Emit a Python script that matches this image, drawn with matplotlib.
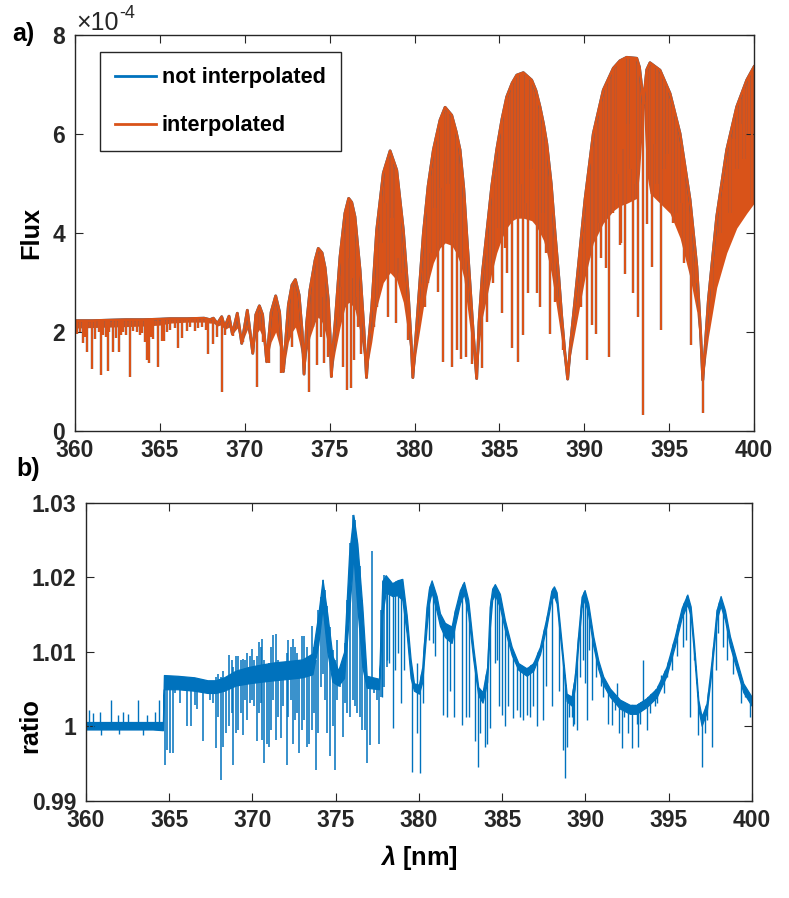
import numpy as np
import matplotlib
matplotlib.use('Agg')
import matplotlib.pyplot as plt
from matplotlib.patches import Polygon

plt.rc('font', family=['Liberation Sans', 'DejaVu Sans'], weight='bold', size=16.5)
plt.rc('axes', labelweight='bold')
plt.rc('mathtext', fontset='custom', rm='Liberation Sans', it='Liberation Sans:italic',
       bf='Liberation Sans:bold')

blue = '#0072BD'
orange = '#D95319'
axis_col = '#262626'

# ---- panel a) : flux in units of 1e-4 ----
# upper envelope of the spectrum and lower edge of the dense (solid) part
env_wl = [360.0, 361.0, 362.0, 363.0, 364.0, 365.0, 365.6, 366.6, 367.6, 367.95,
          368.15, 368.38, 368.64, 368.82, 369.07, 369.27, 369.56, 369.82, 370.15, 370.47,
          370.65, 370.86, 371.05, 371.29, 371.55, 371.82, 372.05, 372.27, 372.57, 372.78,
          372.98, 373.20, 373.38, 373.49, 373.65, 373.84, 374.14, 374.33, 374.55, 374.73,
          374.92, 375.03, 375.10, 375.20, 375.32, 375.61, 375.90, 376.12, 376.30, 376.49,
          376.79, 377.02, 377.17, 377.30, 377.48, 377.77, 378.16, 378.56, 378.95, 379.34,
          379.64, 379.80, 379.90, 380.10, 380.52, 380.80, 381.11, 381.50, 381.80, 382.19,
          382.45, 382.68, 382.90, 383.07, 383.46, 383.66, 383.80, 384.00, 384.25, 384.55,
          384.84, 385.15, 385.43, 385.75, 386.02, 386.41, 386.90, 387.15, 387.39, 387.60,
          387.79, 388.05, 388.28, 388.50, 388.67, 388.85, 389.02, 389.20, 389.55, 390.04,
          390.53, 391.12, 391.71, 392.10, 392.50, 393.09, 393.25, 393.40, 393.48, 393.56,
          393.68, 393.87, 394.46, 395.05, 395.64, 396.23, 396.63, 396.85, 396.98, 397.10,
          397.31, 397.80, 398.39, 398.98, 399.57, 400.0]
env_top = [2.23, 2.23, 2.24, 2.25, 2.25, 2.26, 2.27, 2.27, 2.28, 2.25,
           2.28, 2.17, 2.31, 2.10, 2.32, 1.96, 2.38, 1.77, 2.44, 1.57,
           2.35, 2.53, 2.35, 1.40, 2.40, 2.73, 2.40, 1.20, 2.55, 2.95,
           3.06, 2.75, 2.00, 1.15, 2.20, 2.85, 3.45, 3.69, 3.60, 3.30,
           2.65, 1.90, 1.10, 1.70, 2.18, 3.52, 4.40, 4.70, 4.62, 4.33,
           3.25, 2.04, 1.08, 1.80, 2.51, 4.06, 5.21, 5.66, 5.27, 4.06,
           2.71, 1.80, 1.08, 2.00, 3.99, 4.95, 5.68, 6.28, 6.54, 6.38,
           6.05, 5.68, 4.90, 3.99, 1.97, 1.06, 2.20, 3.20, 3.99, 4.95,
           5.68, 6.30, 6.75, 7.03, 7.19, 7.24, 7.09, 6.88, 6.55, 6.20,
           5.81, 5.00, 3.99, 3.10, 2.31, 1.60, 1.05, 1.80, 2.98, 4.67,
           6.01, 6.89, 7.33, 7.48, 7.55, 7.53, 7.35, 6.90, 6.60, 6.90,
           7.30, 7.44, 7.29, 6.82, 6.01, 4.67, 3.32, 2.00, 1.03, 1.60,
           2.65, 4.33, 5.68, 6.55, 7.09, 7.36]
env_solid = [2.08, 2.09, 2.10, 2.11, 2.12, 2.14, 2.18, 2.20, 2.20, 2.18,
             2.18, 2.12, 2.15, 2.05, 2.10, 1.96, 2.08, 1.77, 2.05, 1.57,
             1.95, 2.05, 1.90, 1.40, 1.80, 2.00, 1.70, 1.20, 1.80, 2.00,
             2.10, 1.80, 1.50, 1.15, 1.60, 1.90, 2.20, 2.30, 2.20, 2.00,
             1.70, 1.40, 1.10, 1.35, 1.60, 2.10, 2.50, 2.60, 2.55, 2.45,
             2.00, 1.50, 1.08, 1.45, 1.80, 2.50, 3.00, 3.20, 3.05, 2.60,
             1.90, 1.45, 1.08, 1.60, 2.50, 3.00, 3.40, 3.70, 3.80, 3.75,
             3.60, 3.40, 3.10, 2.60, 1.55, 1.06, 1.70, 2.30, 2.70, 3.20,
             3.60, 3.90, 4.10, 4.25, 4.30, 4.30, 4.25, 4.15, 4.00, 3.85,
             3.60, 3.20, 2.70, 2.20, 1.80, 1.35, 1.05, 1.55, 2.20, 3.10,
             3.80, 4.20, 4.45, 4.55, 4.60, 4.70, 5.20, 6.00, 6.60, 6.00,
             5.20, 4.80, 4.60, 4.40, 3.90, 3.10, 2.40, 1.60, 1.03, 1.35,
             1.90, 2.90, 3.60, 4.10, 4.40, 4.60]

# absorption lines: wavelength and flux at line core
line_wl = [360.10, 360.30, 360.45, 360.60, 360.73, 360.98, 361.18, 361.40, 361.51, 361.67,
           361.80, 361.96, 362.00, 362.22, 362.42, 362.59, 362.70, 362.85, 363.00, 363.24,
           363.40, 363.63, 363.80, 363.93, 364.10, 364.22, 364.38, 364.50, 364.61, 364.87,
           365.10, 365.26, 365.40, 365.60, 365.90, 366.09, 366.30, 366.58, 366.80, 367.07,
           367.26, 367.50, 367.70, 367.85, 368.11, 368.35, 368.64, 368.84, 369.33, 369.92,
           370.47, 370.70, 371.09, 371.45, 372.12, 372.31, 372.76, 373.80, 374.00, 374.28,
           374.47, 374.55, 374.67, 374.92, 375.50, 375.70, 375.81, 376.00, 376.10, 376.24,
           376.35, 376.44, 376.60, 376.69, 376.83, 377.60, 377.77, 378.00, 378.30, 378.46,
           378.70, 378.91, 379.05, 379.15, 379.64, 380.62, 380.78, 380.90, 381.20, 381.40,
           381.55, 381.70, 381.95, 382.19, 382.35, 382.49, 382.72, 382.90, 383.01, 383.37,
           383.96, 384.25, 384.45, 384.60, 385.00, 385.14, 385.30, 385.47, 385.72, 385.90,
           386.12, 386.25, 386.37, 386.55, 386.70, 386.85, 387.20, 387.39, 387.55, 387.75,
           387.98, 388.05, 388.30, 388.77, 389.80, 390.14, 390.30, 390.44, 390.67, 390.90,
           391.00, 391.30, 391.46, 391.70, 392.00, 392.11, 392.17, 392.30, 392.40, 392.60,
           392.75, 392.89, 393.00, 393.15, 393.48, 393.71, 393.97, 394.10, 394.30, 394.52,
           394.70, 394.90, 395.20, 395.40, 395.74, 395.90, 396.27, 396.57, 396.98, 397.51,
           398.00, 398.20, 398.60, 398.80, 399.00, 399.20, 399.40, 399.70, 399.86]
line_min = [1.97, 2.00, 1.77, 1.90, 1.60, 1.25, 1.85, 2.00, 1.13, 1.95,
            1.90, 1.22, 2.00, 1.60, 1.87, 1.60, 1.95, 2.00, 1.95, 1.10,
            2.02, 2.00, 1.95, 1.98, 1.80, 1.43, 1.37, 1.90, 1.85, 1.29,
            1.82, 1.82, 2.00, 2.05, 2.08, 1.67, 1.87, 2.02, 2.10, 2.02,
            2.08, 2.10, 2.05, 1.56, 1.75, 1.90, 0.79, 1.95, 1.92, 1.80,
            1.60, 0.89, 1.80, 1.38, 1.18, 1.25, 1.70, 0.79, 2.10, 1.33,
            1.90, 2.70, 1.37, 1.50, 2.30, 2.90, 1.30, 0.83, 3.50, 0.86,
            3.10, 1.43, 2.70, 2.11, 1.55, 2.10, 2.50, 3.80, 4.60, 2.31,
            4.30, 2.18, 3.50, 3.20, 1.84, 2.51, 3.00, 3.60, 4.50, 2.81,
            4.90, 1.40, 5.00, 1.30, 4.40, 1.64, 1.45, 3.50, 1.50, 1.35,
            1.27, 2.20, 3.39, 3.00, 4.10, 2.38, 3.70, 3.20, 1.67, 4.30,
            1.40, 5.00, 1.94, 4.60, 2.78, 5.30, 2.78, 2.51, 4.40, 3.60,
            1.97, 3.40, 2.60, 1.64, 2.50, 1.43, 3.50, 2.14, 1.97, 4.20,
            3.50, 3.30, 1.50, 4.40, 5.20, 3.76, 3.80, 5.70, 3.18, 6.20,
            5.30, 2.78, 5.00, 2.31, 0.32, 4.19, 3.32, 5.80, 5.00, 2.04,
            5.30, 5.60, 4.20, 4.40, 4.60, 3.40, 1.74, 3.00, 0.37, 2.65,
            4.00, 5.20, 4.40, 5.90, 5.30, 6.20, 5.50, 6.00, 4.67]

flux_ticks = [0, 2, 4, 6, 8]
wl_ticks = [360, 365, 370, 375, 380, 385, 390, 395, 400]

# ---- panel b) : ratio interpolated / not interpolated ----
# main band of the ratio curve (lower and upper edge)
ratio_wl = [360.0, 361.0, 362.0, 363.0, 364.0, 364.62, 364.68, 365.5, 366.5, 367.3,
            367.8, 368.3, 369.0, 369.8, 370.5, 371.3, 372.2, 373.0, 373.6, 373.95,
            374.21, 374.5, 374.8, 375.15, 375.5, 375.8, 376.06, 376.3, 376.6, 376.86,
            377.6, 377.8, 378.0, 378.4, 378.7, 379.0, 379.26, 379.5, 379.7, 380.0,
            380.2, 380.45, 380.6, 380.76, 381.06, 381.26, 381.56, 381.96, 382.16, 382.46,
            382.7, 382.96, 383.26, 383.56, 383.82, 384.1, 384.25, 384.4, 384.56, 384.86,
            385.16, 385.57, 385.97, 386.47, 386.87, 387.27, 387.67, 387.95, 388.11, 388.27,
            388.57, 388.87, 389.17, 389.35, 389.57, 389.77, 389.95, 390.17, 390.47, 390.77,
            391.07, 391.47, 392.07, 392.67, 393.07, 393.67, 394.27, 394.87, 395.37, 395.78,
            396.12, 396.32, 396.52, 396.78, 396.98, 397.28, 397.58, 397.88, 398.12, 398.38,
            398.68, 399.08, 399.48, 399.98]
ratio_lo = [0.9996, 0.9996, 0.9996, 0.9996, 0.9996, 0.9995, 1.0050, 1.0050, 1.0048, 1.0045,
            1.0045, 1.0048, 1.0055, 1.0058, 1.0060, 1.0062, 1.0064, 1.0066, 1.0070, 1.0110,
            1.0160, 1.0100, 1.0060, 1.0055, 1.0065, 1.0150, 1.0230, 1.0160, 1.0080, 1.0052,
            1.0050, 1.0150, 1.0180, 1.0175, 1.0176, 1.0170, 1.0125, 1.0065, 1.0048, 1.0044,
            1.0060, 1.0130, 1.0165, 1.0180, 1.0155, 1.0135, 1.0120, 1.0112, 1.0135, 1.0165,
            1.0178, 1.0150, 1.0090, 1.0042, 1.0032, 1.0060, 1.0130, 1.0170, 1.0177, 1.0160,
            1.0130, 1.0096, 1.0076, 1.0068, 1.0075, 1.0097, 1.0135, 1.0170, 1.0175, 1.0165,
            1.0100, 1.0034, 1.0028, 1.0050, 1.0110, 1.0160, 1.0170, 1.0150, 1.0108, 1.0077,
            1.0056, 1.0040, 1.0024, 1.0017, 1.0017, 1.0026, 1.0039, 1.0068, 1.0108, 1.0146,
            1.0164, 1.0148, 1.0098, 1.0024, 1.0001, 1.0019, 1.0076, 1.0143, 1.0162, 1.0143,
            1.0108, 1.0077, 1.0046, 1.0028]
ratio_hi = [1.0006, 1.0006, 1.0006, 1.0006, 1.0006, 1.0006, 1.0069, 1.0068, 1.0066, 1.0062,
            1.0062, 1.0066, 1.0075, 1.0080, 1.0083, 1.0086, 1.0088, 1.0090, 1.0098, 1.0150,
            1.0197, 1.0150, 1.0095, 1.0075, 1.0100, 1.0230, 1.0284, 1.0245, 1.0160, 1.0068,
            1.0064, 1.0195, 1.0203, 1.0192, 1.0196, 1.0198, 1.0150, 1.0090, 1.0058, 1.0056,
            1.0080, 1.0160, 1.0185, 1.0196, 1.0175, 1.0152, 1.0139, 1.0134, 1.0156, 1.0183,
            1.0194, 1.0170, 1.0107, 1.0053, 1.0046, 1.0080, 1.0160, 1.0185, 1.0191, 1.0178,
            1.0143, 1.0107, 1.0085, 1.0078, 1.0085, 1.0107, 1.0147, 1.0182, 1.0188, 1.0180,
            1.0112, 1.0044, 1.0040, 1.0065, 1.0125, 1.0174, 1.0183, 1.0165, 1.0121, 1.0089,
            1.0067, 1.0051, 1.0036, 1.0029, 1.0029, 1.0038, 1.0051, 1.0080, 1.0121, 1.0159,
            1.0177, 1.0161, 1.0112, 1.0036, 1.0013, 1.0031, 1.0089, 1.0156, 1.0175, 1.0156,
            1.0121, 1.0089, 1.0058, 1.0040]

# dense forest 364.7 - 378 nm: min and max of the ratio at each stroke
stroke_wl = [364.74, 364.88, 365.04, 365.20, 365.34, 365.64, 366.04, 366.29, 366.55, 366.69,
             367.01, 367.45, 367.65, 367.81, 367.95, 368.09, 368.25, 368.41, 368.59, 368.75,
             368.85, 369.01, 369.15, 369.29, 369.45, 369.57, 369.69, 369.85, 369.95, 370.09,
             370.25, 370.37, 370.49, 370.59, 370.69, 370.85, 370.99, 371.11, 371.25, 371.41,
             371.55, 371.69, 371.85, 372.05, 372.15, 372.29, 372.41, 372.55, 372.69, 372.81,
             372.95, 373.09, 373.25, 373.41, 373.55, 373.69, 373.81, 373.95, 374.09, 374.21,
             374.35, 374.49, 374.65, 374.81, 374.95, 375.09, 375.25, 375.41, 375.55, 375.69,
             375.85, 376.01, 376.15, 376.29, 376.45, 376.59, 376.75, 376.89, 377.05, 377.16,
             377.29, 377.46, 377.58, 377.70, 377.90, 378.10]
stroke_lo = [0.9948, 0.9969, 0.9964, 0.9964, 1.0045, 1.0031, 1.0000, 1.0000, 1.0029, 1.0024,
             0.9980, 1.0036, 1.0031, 0.9971, 1.0013, 0.9928, 0.9973, 0.9991, 1.0000, 1.0018,
             0.9948, 0.9991, 0.9995, 1.0018, 0.9989, 1.0036, 1.0009, 1.0031, 1.0036, 1.0027,
             0.9980, 1.0018, 1.0031, 0.9982, 0.9951, 0.9977, 0.9973, 0.9995, 1.0036, 0.9982,
             1.0013, 0.9984, 1.0027, 0.9948, 1.0013, 1.0036, 0.9977, 1.0009, 1.0018, 0.9964,
             0.9995, 1.0009, 0.9973, 0.9977, 0.9995, 1.0018, 0.9942, 0.9991, 1.0053, 1.0071,
             1.0036, 0.9991, 0.9960, 1.0000, 0.9942, 1.0036, 1.0053, 0.9986, 1.0031, 1.0018,
             1.0013, 1.0036, 1.0027, 1.0018, 1.0013, 0.9995, 0.9995, 0.9951, 0.9975, 1.0053,
             1.0045, 1.0036, 0.9977, 1.0040, 1.0053, 1.0080]
stroke_hi = [1.0069, 1.0067, 1.0062, 1.0062, 1.0067, 1.0067, 1.0062, 1.0062, 1.0060, 1.0058,
             1.0058, 1.0060, 1.0053, 1.0067, 1.0071, 1.0067, 1.0074, 1.0062, 1.0096, 1.0089,
             1.0080, 1.0094, 1.0095, 1.0089, 1.0091, 1.0089, 1.0099, 1.0094, 1.0104, 1.0089,
             1.0094, 1.0113, 1.0107, 1.0117, 1.0089, 1.0080, 1.0085, 1.0107, 1.0123, 1.0124,
             1.0089, 1.0087, 1.0087, 1.0098, 1.0116, 1.0107, 1.0118, 1.0107, 1.0098, 1.0089,
             1.0121, 1.0121, 1.0107, 1.0089, 1.0135, 1.0107, 1.0089, 1.0156, 1.0174, 1.0197,
             1.0183, 1.0161, 1.0134, 1.0103, 1.0089, 1.0116, 1.0062, 1.0089, 1.0112, 1.0170,
             1.0246, 1.0284, 1.0277, 1.0250, 1.0215, 1.0170, 1.0103, 1.0067, 1.0062, 1.0235,
             1.0062, 1.0062, 1.0062, 1.0156, 1.0203, 1.0197]

# spikes going down from the band
dip_wl = [360.90, 362.00, 363.40, 377.76, 378.06, 378.22, 378.42, 378.56, 378.76, 378.90,
          379.10, 379.60, 379.90, 380.06, 380.26, 380.62, 380.86, 380.96, 381.46, 381.66,
          381.86, 382.10, 382.56, 382.82, 383.02, 383.36, 383.52, 383.66, 383.96, 384.10,
          384.26, 384.56, 384.70, 384.82, 384.96, 385.16, 385.36, 385.66, 385.86, 386.06,
          386.27, 386.47, 386.67, 386.87, 387.11, 387.43, 387.63, 387.97, 388.43, 388.63,
          388.77, 388.91, 389.03, 389.17, 389.27, 389.31, 389.47, 389.67, 389.83, 389.97,
          390.07, 390.23, 390.37, 390.63, 390.91, 391.07, 391.37, 391.57, 391.77, 392.03,
          392.17, 392.33, 392.57, 392.77, 393.07, 393.17, 393.27, 393.71, 393.87, 394.17,
          394.31, 394.71, 394.91, 395.17, 395.52, 395.88, 396.04, 396.28, 396.52, 396.76,
          396.98, 397.18, 397.32, 397.58, 397.84, 397.98, 398.28, 398.48, 398.88, 399.08,
          399.32, 399.58, 399.88]
dip_tip = [0.9988, 0.9990, 0.9988, 1.0040, 1.0089, 1.0085, 0.9998, 1.0076, 1.0098, 1.0031,
           1.0076, 0.9939, 0.9991, 0.9937, 1.0031, 1.0116, 1.0112, 1.0094, 1.0015, 1.0013,
           1.0047, 1.0013, 1.0002, 1.0013, 1.0013, 0.9980, 0.9946, 0.9991, 0.9973, 0.9977,
           0.9998, 1.0085, 1.0089, 1.0027, 1.0015, 1.0000, 1.0027, 1.0011, 1.0022, 1.0013,
           1.0009, 1.0015, 1.0013, 1.0027, 1.0000, 1.0009, 1.0054, 1.0027, 1.0047, 0.9969,
           0.9931, 0.9973, 1.0013, 1.0013, 1.0000, 1.0004, 0.9995, 1.0067, 1.0089, 1.0058,
           1.0009, 1.0103, 1.0036, 1.0067, 1.0054, 1.0040, 1.0004, 1.0002, 1.0022, 0.9991,
           0.9971, 1.0013, 0.9991, 0.9971, 1.0004, 0.9973, 1.0004, 0.9995, 1.0018, 1.0027,
           1.0031, 1.0045, 1.0067, 1.0076, 1.0094, 1.0107, 1.0116, 1.0013, 1.0089, 0.9989,
           0.9946, 0.9991, 1.0009, 0.9973, 1.0076, 1.0125, 1.0107, 1.0089, 1.0071, 1.0076,
           1.0031, 1.0040, 1.0013]

# spikes going up from the band
peak_wl = [360.18, 360.44, 360.84, 361.50, 361.94, 362.24, 362.54, 363.14, 363.64, 364.14,
           364.40, 379.86, 391.91, 393.47, 394.51]
peak_tip = [1.0022, 1.0018, 1.0019, 1.0036, 1.0015, 1.0019, 1.0017, 1.0036, 1.0015, 1.0019,
            1.0036, 1.0085, 1.0058, 1.0089, 1.0069]

ratio_ticks = [0.99, 1.0, 1.01, 1.02, 1.03]
ratio_labels = ['0.99', '1', '1.01', '1.02', '1.03']


def style_axes(ax):
    for s in ax.spines.values():
        s.set_color(axis_col)
        s.set_linewidth(1.0)
    ax.tick_params(direction='in', length=6, width=0.8, color=axis_col,
                   top=True, right=True, labelcolor=axis_col)


def region(x, y, y_close):
    # polygon under / over a curve, used to clip the line marks
    return np.column_stack([np.r_[x, x[-1], x[0]], np.r_[y, y_close, y_close]])


fig = plt.figure(figsize=(7.89, 8.98), dpi=100)

# panel a)
ax1 = fig.add_axes([0.0951, 0.520, 0.8606, 0.441])
wl = np.array(env_wl)
top = np.array(env_top)
clip1 = Polygon(region(wl, top, 0), closed=True, transform=ax1.transData)

l_blue, = ax1.plot(wl, top, color=blue, lw=2.0, label='not interpolated')
lc = ax1.vlines(line_wl, line_min, 8, colors=blue, lw=1.6)
lc.set_clip_path(clip1)

ax1.fill_between(wl, env_solid, top, color=orange, lw=0)
lc = ax1.vlines(line_wl, line_min, 8, colors=orange, lw=1.6)
lc.set_clip_path(clip1)
l_orange, = ax1.plot(wl, top, color=orange, lw=2.0, label='interpolated')

ax1.set_xlim(360, 400)
ax1.set_ylim(0, 8)
ax1.set_xticks(wl_ticks)
ax1.set_yticks(flux_ticks)
ax1.set_ylabel('Flux', fontsize=18.3)
ax1.yaxis.set_label_coords(-0.047, 0.5)
style_axes(ax1)
ax1.tick_params(axis='y', pad=7)
ax1.tick_params(axis='x', pad=6)
ax1.text(0.002, 1.012, '\u00d710', transform=ax1.transAxes, fontsize=18,
         fontweight='normal', color=axis_col, ha='left', va='baseline')
ax1.text(0.065, 1.043, '-4', transform=ax1.transAxes, fontsize=13,
         fontweight='normal', color=axis_col, ha='left', va='baseline')
fig.text(0.016, 0.962, 'a)', fontsize=18, fontweight='bold', va='center')

leg = ax1.legend(handles=[l_blue, l_orange], loc='upper left',
                 bbox_to_anchor=(0.037, 0.957), borderaxespad=0, fontsize=15.6,
                 handlelength=1.9, handletextpad=0.25, labelspacing=1.25,
                 borderpad=0.7, fancybox=False, framealpha=1)
leg.get_frame().set_edgecolor(axis_col)
leg.get_frame().set_linewidth(1.0)

# panel b)
ax2 = fig.add_axes([0.109, 0.108, 0.844, 0.332])
rwl = np.array(ratio_wl)
below = Polygon(region(rwl, np.array(ratio_hi), 0.98), closed=True, transform=ax2.transData)
above = Polygon(region(rwl, np.array(ratio_lo), 1.04), closed=True, transform=ax2.transData)

ax2.fill_between(rwl, ratio_lo, ratio_hi, color=blue, lw=0.9)
ax2.vlines(stroke_wl, stroke_lo, stroke_hi, colors=blue, lw=1.1)
lc = ax2.vlines(dip_wl, dip_tip, 1.03, colors=blue, lw=1.0)
lc.set_clip_path(below)
lc = ax2.vlines(peak_wl, 0.99, peak_tip, colors=blue, lw=1.0)
lc.set_clip_path(above)

ax2.set_xlim(360, 400)
ax2.set_ylim(0.99, 1.03)
ax2.set_xticks(wl_ticks)
ax2.set_yticks(ratio_ticks)
ax2.set_yticklabels(ratio_labels)
ax2.set_ylabel('ratio', fontsize=18.3)
ax2.yaxis.set_label_coords(-0.066, 0.252)
ax2.set_xlabel(r'$\lambda$ [nm]', fontsize=18.3, labelpad=8)
style_axes(ax2)
ax2.tick_params(axis='y', pad=7)
ax2.tick_params(axis='x', pad=6)
fig.text(0.021, 0.478, 'b)', fontsize=18, fontweight='bold', va='center')

fig.savefig('out.png', dpi=100)
